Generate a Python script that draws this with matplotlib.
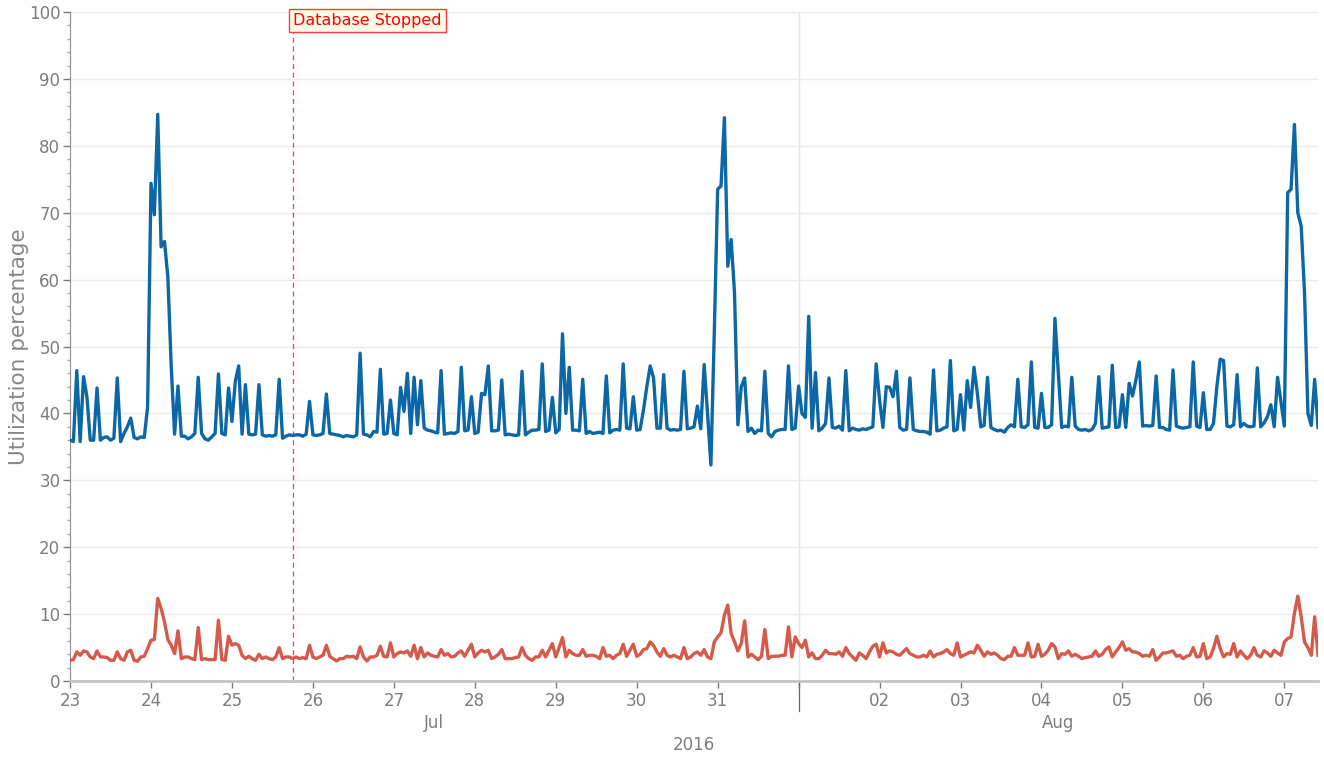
import matplotlib
matplotlib.use('Agg')
import matplotlib.pyplot as plt
import matplotlib.transforms as mtransforms
import pandas as pd

# hourly samples, first one at 2016-07-23 00:00
start = '2016-07-23 00:00'
event_time = '2016-07-25 18:10'
event_label = 'Database Stopped'
y_label = 'Utilization percentage'
year_label = '2016'
month_labels = ['Jul', 'Aug']
month_start = '2016-08-01'

blue_util = [
    # Jul 23
    36, 35.8, 46.4, 35.8, 45.5, 42.5, 36, 36, 43.8, 36, 36.4, 36.5,
    36, 36.3, 45.3, 35.8, 37, 38, 39.3, 36.4, 36.2, 36.5, 36.4, 41,
    # Jul 24
    74.4, 69.7, 84.7, 64.9, 65.7, 60.4, 47, 36.9, 44.1, 36.6, 36.6, 36.2,
    36.5, 37, 45.4, 37, 36.2, 36, 36.5, 37, 45.9, 37, 36.8, 43.8,
    # Jul 25
    38.8, 44.8, 47.1, 36.9, 44.3, 36.9, 36.8, 36.9, 44.3, 36.8, 36.6, 36.7,
    36.6, 36.8, 45.1, 36.3, 36.6, 36.8, 36.7, 36.8, 36.8, 36.6, 36.9, 41.8,
    # Jul 26
    36.8, 36.7, 36.8, 37, 42.9, 37, 36.9, 36.8, 36.7, 36.5, 36.7, 36.6,
    36.5, 36.8, 49, 36.9, 36.8, 36.5, 37.3, 37.2, 46.6, 36.9, 37, 42,
    # Jul 27
    37, 36.8, 43.9, 40.3, 46, 37, 45.4, 38.3, 44.9, 37.8, 37.5, 37.4,
    37.2, 37.1, 46.4, 36.9, 37, 37.1, 37, 37.3, 46.9, 37.4, 37.5, 42.5,
    # Jul 28
    37, 37.2, 43, 42.8, 47.1, 37.4, 37.4, 37.5, 45, 36.8, 36.9, 36.8,
    36.7, 36.8, 46.3, 36.8, 37.2, 37.5, 37.5, 37.6, 47.4, 37.3, 37.5, 42.4,
    # Jul 29
    37.1, 37.6, 51.9, 40, 46.9, 37.5, 37.5, 37.4, 45.1, 37, 37.3, 37,
    37.1, 37.2, 37, 45.6, 37.1, 37.5, 37.6, 37.5, 47.4, 37.8, 37.7, 42.5,
    # Jul 30
    37.5, 37.6, 40.5, 44, 47.1, 45.3, 37.8, 37.8, 45.8, 37.8, 37.5, 37.6,
    37.5, 37.6, 46.3, 37.7, 37.8, 38, 41.1, 37.7, 47.3, 40, 32.3, 52,
    # Jul 31
    73.5, 74, 84.2, 62, 66, 58, 38.3, 44, 45.3, 37.3, 37.8, 37,
    37.5, 37.4, 46.3, 37, 36.5, 37.3, 37.5, 37.6, 37.6, 47.1, 37.6, 37.8,
    # Aug 01
    44.1, 40, 39.4, 54.5, 37.8, 46.1, 37.4, 37.8, 38.5, 45.3, 37.9, 37.8,
    38.1, 37.5, 46.4, 37.4, 37.8, 37.6, 37.5, 37.7, 37.6, 37.8, 38, 47.4,
    # Aug 02
    42, 37.9, 44, 43.9, 42.5, 46.3, 37.9, 37.5, 37.6, 45.3, 37.6, 37.4,
    37.3, 37.3, 37.2, 36.9, 46.5, 37.4, 37.5, 37.8, 38, 47.9, 37.4, 37.6,
    # Aug 03
    42.8, 37.5, 44.9, 40.9, 46.9, 43, 38, 38.2, 45.4, 37.9, 37.6, 37.4,
    37.5, 37.2, 37.9, 38.3, 38, 45.1, 38, 37.9, 38.3, 47.7, 37.9, 37.8,
    # Aug 04
    43, 37.9, 37.9, 38.3, 54.2, 46, 37.9, 38.1, 38, 45.4, 38.1, 37.6,
    37.5, 37.6, 37.4, 37.6, 38.5, 45.5, 37.8, 37.9, 38, 47.2, 37.9, 38,
    # Aug 05
    42.8, 37.9, 44.5, 42.6, 45, 47.7, 38.1, 38.2, 38.1, 38.2, 45.6, 37.9,
    37.9, 37.6, 37.5, 46.5, 38.1, 37.9, 37.8, 37.9, 38, 47.7, 38.1, 37.9,
    # Aug 06
    43.1, 37.6, 37.6, 38.5, 44, 48.1, 47.9, 38.1, 38, 38.3, 45.8, 38,
    38.5, 38.1, 38, 38.1, 46.8, 38, 38.6, 39.5, 41.3, 38, 45.4, 41.7,
    # Aug 07
    38.1, 73, 73.5, 83.2, 70, 68, 58, 40, 38.2, 45.1, 37.9,
]

red_util = [
    # Jul 23
    3.1, 3.2, 4.35, 3.85, 4.5, 4.35, 3.6, 3.35, 4.5, 3.6, 3.6, 3.5,
    3.1, 3.1, 4.35, 3.35, 3.1, 4.35, 4.6, 3.1, 2.95, 3.6, 3.7, 4.85,
    # Jul 24
    6.1, 6.2, 12.35, 10.85, 8.85, 6.2, 5.35, 4.1, 7.5, 3.35, 3.6, 3.6,
    3.35, 3.2, 8.0, 3.2, 3.35, 3.2, 3.2, 3.2, 9.1, 3.2, 3.1, 6.7,
    # Jul 25
    5.35, 5.6, 5.35, 3.85, 3.35, 3.7, 3.35, 3.1, 4.0, 3.35, 3.6, 3.35,
    3.2, 3.6, 5.0, 3.35, 3.6, 3.6, 3.35, 3.6, 3.35, 3.5, 3.35, 5.35,
    # Jul 26
    3.6, 3.35, 3.6, 3.85, 5.35, 3.7, 3.35, 3.0, 3.35, 3.35, 3.7, 3.6,
    3.7, 3.35, 5.1, 3.6, 3.0, 3.6, 3.6, 3.85, 5.2, 3.7, 3.6, 5.7,
    # Jul 27
    3.6, 4.1, 4.35, 4.2, 4.5, 3.7, 5.35, 3.35, 5.0, 3.6, 4.2, 3.85,
    3.7, 3.6, 4.7, 3.85, 4.1, 3.6, 3.7, 4.2, 4.5, 3.7, 4.6, 5.5,
    # Jul 28
    3.6, 4.2, 4.6, 4.35, 4.6, 3.35, 3.6, 4.0, 4.7, 3.35, 3.35, 3.35,
    3.5, 3.6, 5.0, 3.85, 3.35, 3.1, 3.6, 3.6, 4.6, 3.6, 4.6, 5.6,
    # Jul 29
    3.6, 5.0, 6.5, 3.6, 4.6, 4.1, 3.85, 3.85, 4.7, 3.7, 3.85, 3.85,
    3.7, 3.35, 5.0, 3.7, 3.85, 3.35, 3.85, 4.1, 5.5, 3.7, 4.6, 5.5,
    # Jul 30
    3.7, 4.0, 4.7, 4.85, 5.85, 5.3, 4.35, 3.7, 4.85, 3.85, 3.6, 3.85,
    3.6, 3.35, 5.0, 3.35, 3.6, 4.1, 4.35, 3.85, 4.7, 3.6, 3.35, 5.85,
    # Jul 31
    6.6, 7.2, 9.85, 11.35, 7.1, 5.85, 4.5, 5.6, 9.0, 3.6, 4.0, 3.6,
    3.2, 3.7, 7.7, 3.35, 3.7, 3.7, 3.7, 3.85, 3.85, 8.1, 3.6, 6.6,
    # Aug 01
    5.6, 5.0, 6.1, 3.6, 4.2, 3.35, 3.35, 3.85, 4.6, 4.1, 4.1, 4.0,
    4.35, 3.7, 5.0, 4.1, 3.6, 3.1, 4.2, 3.85, 3.35, 4.35, 5.2, 5.5,
    # Aug 02
    3.6, 5.7, 4.2, 4.5, 4.35, 4.0, 3.85, 4.35, 4.85, 4.1, 3.85, 3.6,
    3.6, 3.85, 3.6, 4.5, 3.6, 4.0, 4.1, 4.35, 4.7, 4.1, 3.85, 5.7,
    # Aug 03
    3.6, 3.85, 4.1, 4.35, 4.2, 5.35, 4.6, 3.7, 4.35, 4.0, 4.2, 3.85,
    3.35, 3.2, 3.7, 3.7, 5.0, 3.85, 3.85, 3.85, 5.7, 3.6, 3.7, 5.5,
    # Aug 04
    3.7, 4.0, 4.6, 5.6, 5.1, 3.35, 4.1, 4.0, 4.5, 3.7, 4.0, 3.7,
    3.35, 3.5, 3.6, 3.7, 4.5, 3.7, 4.0, 4.7, 5.1, 3.6, 4.35, 5.0,
    # Aug 05
    5.85, 4.6, 4.85, 4.35, 4.35, 4.1, 3.7, 3.85, 3.7, 4.7, 3.1, 3.6,
    4.2, 4.2, 4.35, 4.5, 3.7, 3.85, 3.35, 3.7, 3.85, 5.0, 3.6, 3.7,
    # Aug 06
    5.6, 3.35, 3.6, 4.85, 6.7, 4.85, 3.6, 4.1, 4.0, 5.6, 3.6, 4.5,
    3.85, 3.35, 3.85, 5.0, 3.85, 3.6, 4.5, 4.2, 3.7, 4.6, 4.2, 3.85,
    # Aug 07
    5.85, 6.35, 6.6, 10.1, 12.7, 9.6, 5.85, 5.0, 3.85, 9.6, 3.85,
]

times = pd.date_range(start, periods=len(blue_util), freq='h')
event = pd.Timestamp(event_time)
aug1 = pd.Timestamp(month_start)

grey = '#7c7c7c'
fs = 12

fig = plt.figure(figsize=(13.24, 7.6), dpi=100)
ax = fig.add_axes([0.0529, 0.1039, 0.9426, 0.8803])

ax.yaxis.grid(True, color='#ebebeb', lw=1)
ax.set_axisbelow(True)
ax.axvline(aug1, color='#e4e4e4', lw=1, zorder=0)

ax.plot(times, blue_util, color='#0b67a5', lw=2.4, zorder=3)
ax.plot(times, red_util, color='#d65a4a', lw=2.4, zorder=3)

ax.set_xlim(times[0], times[-1])
ax.set_ylim(0, 100)

# y axis
ax.set_yticks(range(0, 101, 10))
ax.set_yticks(range(0, 101, 2), minor=True)
ax.tick_params(axis='y', which='major', colors=grey, labelsize=fs, length=5, width=1, pad=2)
ax.tick_params(axis='y', which='minor', colors='#aaaaaa', length=2, width=1)
ax.set_ylabel(y_label, color='#888888', fontsize=15.5)
ax.yaxis.set_label_coords(-0.033, 0.5)

# x axis: day numbers, blank on the month boundary
days = pd.date_range(times[0].normalize(), times[-1], freq='D')
ax.set_xticks(days)
ax.set_xticklabels(['' if d.day == 1 else d.strftime('%d') for d in days])
ax.tick_params(axis='x', colors=grey, labelsize=fs, length=5, width=1, pad=3)

for side in ['top', 'right']:
    ax.spines[side].set_visible(False)
ax.spines['left'].set_color('#8c8c8c')
ax.spines['bottom'].set_color('#c4c4c4')
ax.spines['bottom'].set_linewidth(2)

trans = mtransforms.blended_transform_factory(ax.transData, ax.transAxes)

# month separator and group labels
ax.plot([aug1, aug1], [0, -0.045], transform=trans, color='#666666', lw=0.9, clip_on=False)
t0, t1 = times[0], times[-1]
ax.text(t0 + (aug1 - t0) / 2, -0.062, month_labels[0], transform=trans,
        ha='center', va='center', color=grey, fontsize=fs)
ax.text(aug1 + (t1 - aug1) / 2, -0.062, month_labels[1], transform=trans,
        ha='center', va='center', color=grey, fontsize=fs)
ax.text(0.5, -0.095, year_label, transform=ax.transAxes,
        ha='center', va='center', color=grey, fontsize=fs)

# event marker
ax.axvline(event, color='#e8474a', lw=0.9, ls=(0, (4, 3)), zorder=2)
ax.text(event, 0.987, event_label, transform=trans, ha='left', va='center',
        color='#ff0000', fontsize=11.5, zorder=5,
        bbox=dict(boxstyle='square,pad=0.25', fc='#fffde8', ec='#ff3b3b', lw=1))

fig.savefig('out.png', dpi=100)
